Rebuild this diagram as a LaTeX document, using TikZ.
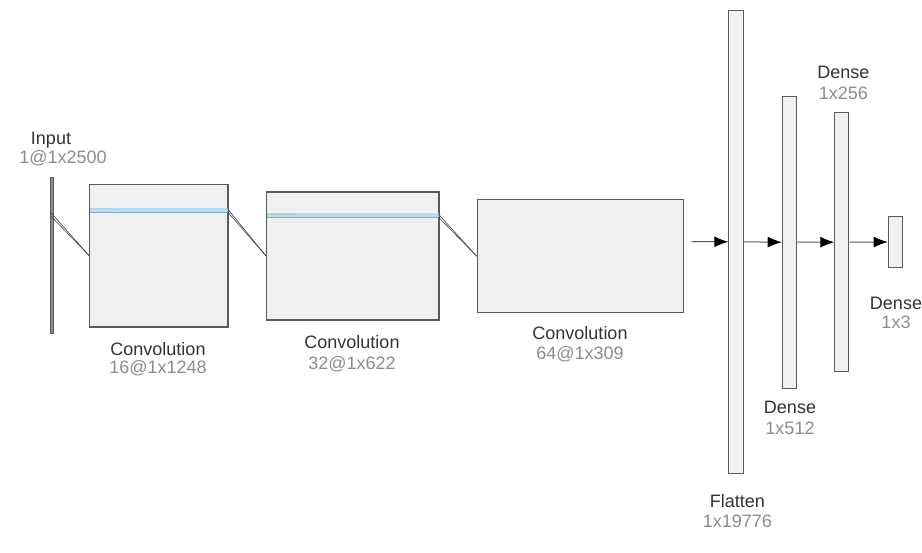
\documentclass[tikz,border=0pt]{standalone}
\usepackage{fontspec}
\setmainfont{Liberation Sans}
\usetikzlibrary{arrows.meta}
\definecolor{boxfill}{HTML}{F0F0F0}
\definecolor{edge}{HTML}{5A5A5A}
\definecolor{inputfill}{HTML}{8E8E8E}
\definecolor{band}{HTML}{B7DCEC}
\definecolor{bandedge}{HTML}{7FAFC8}
\definecolor{labc}{HTML}{333333}
\definecolor{subc}{HTML}{8C8C8C}
\tikzset{
  layer/.style={draw=edge, fill=boxfill, line width=1pt, inner sep=0pt,
    anchor=north west, minimum width=#1},
  title/.style={font=\fontsize{18}{20}\selectfont, text=labc, inner sep=0pt},
  dims/.style={font=\fontsize{18}{20}\selectfont, text=subc, inner sep=0pt},
  flow/.style={draw=edge, line width=1pt, -{Latex[length=14pt,width=11pt,black]}},
  link/.style={draw=black!75, line width=0.6pt},
}
\begin{document}
\begin{tikzpicture}[x=1pt, y=-1pt]
\useasboundingbox (0,0) rectangle (922,553);

% input vector
\node[layer=3pt, minimum height=156pt, fill=inputfill, draw=black!65] (in) at (49.6,177) {};
\node[title] (inT) at (51,140) {Input};
\node[dims] (inD) at (63,158) {1@1x2500};

% convolution blocks
\node[layer=138pt, minimum height=142pt] (c1) at (89.3,184.3) {};
\node[layer=172pt, minimum height=127.5pt] (c2) at (266,191.7) {};
\node[layer=206pt, minimum height=113.5pt] (c3) at (476.7,199) {};

% receptive-field bands
\fill[band] (c1.west |- 0,207.8) rectangle (c1.east |- 0,211.8);
\draw[bandedge, line width=0.4pt] (c1.west |- 0,211.8) -- (c1.east |- 0,211.8);
\fill[bandedge!60] (c1.west |- 0,207.8) rectangle (114,209.2);
\fill[band] (c2.west |- 0,213.3) rectangle (c2.east |- 0,216.8);
\draw[bandedge, line width=0.4pt] (c2.west |- 0,216.8) -- (c2.east |- 0,216.8);
\fill[bandedge!60] (c2.west |- 0,213.3) rectangle (295,214.6);
\draw[edge, line width=1pt] (c1.north west) rectangle (c1.south east);
\draw[edge, line width=1pt] (c2.north west) rectangle (c2.south east);

% filter connections
\coordinate (in1) at (51.2,213);
\coordinate (in2) at (51.2,216.5);
\coordinate (c1a) at (227.3,208.5);
\coordinate (c1b) at (227.3,211.5);
\coordinate (c2a) at (438.3,214);
\coordinate (c2b) at (438.3,217);
\draw[link] (in1) -- (c1.west);
\draw[link] (in2) -- (c1.west);
\draw[link] (c1a) -- (c2.west);
\draw[link] (c1b) -- (c2.west);
\draw[link] (c2a) -- (c3.west);
\draw[link] (c2b) -- (c3.west);

\node[title] (c1T) at (158,349) {Convolution};
\node[dims] (c1D) at (158,368) {16@1x1248};
\node[title] (c2T) at (352,342) {Convolution};
\node[dims] (c2D) at (352,364) {32@1x622};
\node[title] (c3T) at (580,333) {Convolution};
\node[dims] (c3D) at (580,354) {64@1x309};

% fully connected part
\node[layer=14.3pt, minimum height=462.7pt] (fl) at (728.3,10) {};
\node[layer=14pt, minimum height=292pt] (d1) at (781.7,95.7) {};
\node[layer=14pt, minimum height=258.7pt] (d2) at (834.3,112.3) {};
\node[layer=14pt, minimum height=51.6pt] (d3) at (887.7,215.7) {};

\coordinate (c3out) at (691.7,241.5);
\draw[flow] (c3out) -- (fl.west);
\draw[flow] (fl.east) -- (d1.west);
\draw[flow] (d1.east) -- (d2.west);
\draw[flow] (d2.east) -- (d3.west);

\node[title] (flT) at (737.3,501) {Flatten};
\node[dims] (flD) at (737.3,521) {1x19776};
\node[title] (d1T) at (790,407.5) {Dense};
\node[dims] (d1D) at (790,428) {1x512};
\node[title] (d2T) at (843.3,72.5) {Dense};
\node[dims] (d2D) at (843.3,93.5) {1x256};
\node[title] (d3T) at (896,303) {Dense};
\node[dims] (d3D) at (896,322) {1x3};
\end{tikzpicture}
\end{document}
